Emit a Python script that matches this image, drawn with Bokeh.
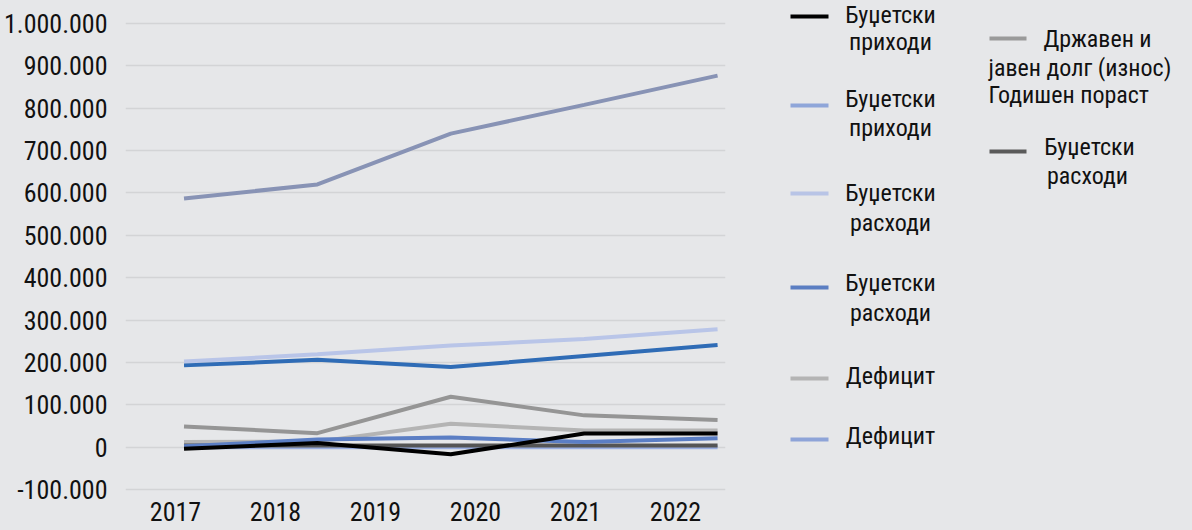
from bokeh.plotting import figure
from bokeh.models import Range1d, FixedTicker
from bokeh.layouts import row
from bokeh.core.properties import value
from bokeh.embed import file_html
from bokeh.resources import INLINE

# ---------------- data ----------------
years = ["2017", "2018", "2019", "2020", "2021", "2022"]
periods = [1, 2, 3, 4, 5]

debt_total = [587000, 620000, 740000, 808000, 877000]
exp_light = [202000, 219000, 240000, 255000, 278000]
rev_blue = [193000, 206000, 189000, 215000, 241000]
debt_growth = [49000, 33000, 119000, 75000, 64000]
deficit_gray = [12000, 13000, 55000, 39000, 39000]
rev_black = [-4000, 10000, -17000, 32000, 32000]
deficit_blue = [2000, 18000, 23000, 12000, 21000]
exp_dark = [4000, 4000, 4000, 4000, 4000]
misc_zero = [0, 0, 0, 0, 0]

y_ticks = [-100000, 0, 100000, 200000, 300000, 400000, 500000,
           600000, 700000, 800000, 900000, 1000000]
y_tick_labels = ["-100.000", "0", "100.000", "200.000", "300.000", "400.000",
                 "500.000", "600.000", "700.000", "800.000", "900.000", "1.000.000"]

legend_labels = [
    ["Буџетски", "приходи"],
    ["Буџетски", "приходи"],
    ["Буџетски", "расходи"],
    ["Буџетски", "расходи"],
    ["Дефицит"],
    ["Дефицит"],
    ["Државен и", "јавен долг (износ)", "Годишен пораст"],
    ["Буџетски", "расходи"],
]
legend_colors = ["#000000", "#8fa6d9", "#b8c4e6", "#5b7ec2",
                 "#b4b4b4", "#8ea4d8", "#9a9a9a", "#5a5a5a"]

# ---------------- style ----------------
BG = "#e6e7e9"
GRID = "#d3d4d6"
FONT = "Roboto Condensed"
TXT = "#111111"

W_TOTAL, H = 1192, 530
W_MAIN = 748
LEFT, RIGHT = 120, 23
TOP_GRID_PX = 23           # pixel row of the 1.000.000 gridline
FRAME_W = W_MAIN - LEFT - RIGHT
PX_PER_UNIT_Y = 466 / 1100000.0
top_tick = 1000000
y_end = top_tick + TOP_GRID_PX / PX_PER_UNIT_Y
y_start = top_tick - (H - TOP_GRID_PX) / PX_PER_UNIT_Y

# x positions of the data points relative to the frame (pixels)
first_off, last_off = 59, 8
px_per_period = (FRAME_W - first_off - last_off) / (len(periods) - 1)
pts_start = periods[0] - first_off / px_per_period
pts_end = periods[-1] + last_off / px_per_period

p = figure(width=W_MAIN, height=H, x_range=Range1d(0, len(years)),
           y_range=Range1d(y_start, y_end),
           x_axis_location=None, y_axis_location="left",
           toolbar_location=None, output_backend="svg",
           min_border_left=LEFT, min_border_right=RIGHT,
           min_border_top=0, min_border_bottom=0,
           background_fill_color=BG, border_fill_color=BG,
           outline_line_color=None)
p.extra_x_ranges = {"pts": Range1d(pts_start, pts_end)}

ax = p.yaxis[0]
ax.ticker = FixedTicker(ticks=y_ticks)
ax.major_label_overrides = {t: l for t, l in zip(y_ticks, y_tick_labels)}
ax.axis_line_color = None
ax.major_tick_line_color = None
ax.minor_tick_line_color = None
ax.major_label_text_font = FONT
ax.major_label_text_font_size = "26px"
ax.major_label_text_color = TXT
ax.major_label_standoff = 12

for g in p.grid:
    if g.dimension == 0:
        g.visible = False
    else:
        g.grid_line_color = GRID
        g.grid_line_width = 1.5
        g.ticker = FixedTicker(ticks=y_ticks)

series = [
    (debt_total, "#8893b5"),
    (exp_light, "#b9c5e8"),
    (rev_blue, "#2f6cb6"),
    (debt_growth, "#959595"),
    (deficit_gray, "#b4b4b4"),
    (misc_zero, "#9aaee0"),
    (exp_dark, "#555555"),
    (deficit_blue, "#5b7ec4"),
    (rev_black, "#000000"),
]
for ys, c in series:
    p.line(periods, ys, x_range_name="pts", line_color=c, line_width=4)

# year labels along the bottom, centred in each year's band
year_x = [i + 0.5 for i in range(len(years))]
label_canvas_y = 511
label_y = y_end - label_canvas_y / PX_PER_UNIT_Y
p.text(x=year_x, y=[label_y] * len(years), text=years,
       text_font=value(FONT), text_font_size="26px", text_color=TXT,
       text_align="center", text_baseline="middle")

# ---------------- legend ----------------
W_LEG = W_TOTAL - W_MAIN
lf = figure(width=W_LEG, height=H, x_range=Range1d(W_MAIN, W_TOTAL),
            y_range=Range1d(H, 0), x_axis_location=None,
            y_axis_location=None, toolbar_location=None,
            output_backend="svg", min_border=0,
            background_fill_color=BG, border_fill_color=BG,
            outline_line_color=None)
lf.grid.visible = False

# layout of legend items (pixel positions)
marker_x = [(790, 828)] * 6 + [(989, 1026)] * 2
marker_y = [16, 105, 193, 287, 378, 439, 38, 151]
line_y = [[14, 41], [98, 127], [192, 222], [282, 312], [375], [435],
          [38, 67, 94], [146, 175]]
line_x = [[890, 890], [890, 890], [890, 890], [890, 890], [890], [890],
          [1097, 988, 988], [1089, 1087]]
line_align = [["center"] * 2] * 4 + [["center"]] * 2 + \
             [["center", "left", "left"], ["center", "center"]]

tx, ty, tt, ta = [], [], [], []
for labs, xs, ys, als in zip(legend_labels, line_x, line_y, line_align):
    for t, x, y, a in zip(labs, xs, ys, als):
        tx.append(x)
        ty.append(y)
        tt.append(t)
        ta.append(a)

for (mx0, mx1), my, c in zip(marker_x, marker_y, legend_colors):
    lf.segment(x0=[mx0], y0=[my], x1=[mx1], y1=[my], line_color=c,
               line_width=4)

lf.text(x=tx, y=ty, text=tt, text_align=ta, text_font=value(FONT),
        text_font_size="24px", text_color=TXT, text_baseline="middle")

layout = row(p, lf, spacing=0, styles={"background-color": BG})
open("out.html", "w").write(file_html(layout, INLINE))
